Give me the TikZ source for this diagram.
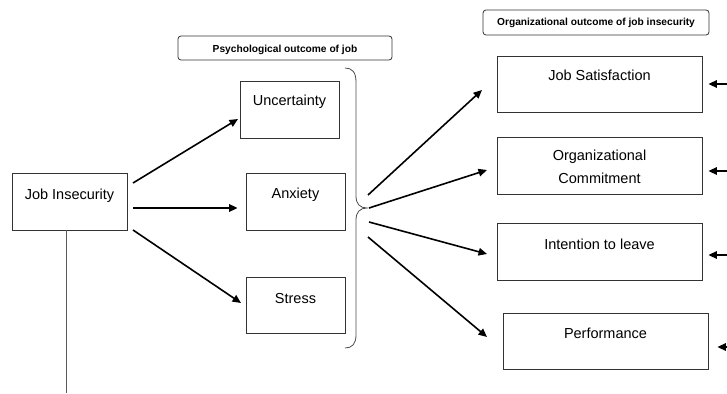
\documentclass[tikz,border=0pt]{standalone}
\usepackage{fontspec}
\setmainfont{Liberation Sans}
\usetikzlibrary{arrows.meta}
\begin{document}
\begin{tikzpicture}[x=1pt,y=-1pt,
  box/.style={draw=black!80, line width=0.8pt, inner sep=0pt},
  lab/.style={draw=black!80, rounded corners=3pt, line width=0.8pt, inner sep=0pt},
  txt/.style={font=\fontsize{14.5}{23}\selectfont, inner sep=0pt, anchor=base, align=center},
  btxt/.style={font=\bfseries\fontsize{10.2}{12}\selectfont, inner sep=0pt, anchor=base},
  arr/.style={line width=1.6pt, -{Triangle[length=8.5pt,width=7.5pt]}},
]
\useasboundingbox (0,0) rectangle (727,393);

% boxes
\node[box, minimum width=115, minimum height=57] (ji) at (69.5,201.5) {};
\node[box, minimum width=99, minimum height=57] (unc) at (289.5,109.5) {};
\node[box, minimum width=99, minimum height=57] (anx) at (295.5,201.5) {};
\node[box, minimum width=99, minimum height=56] (str) at (295.5,305) {};
\node[box, minimum width=205, minimum height=56] (js) at (599.5,84) {};
\node[box, minimum width=205, minimum height=57] (oc) at (599.5,165.5) {};
\node[box, minimum width=205, minimum height=57] (itl) at (599.5,251.5) {};
\node[box, minimum width=205, minimum height=56] (perf) at (605.5,341) {};
\node[lab, minimum width=214, minimum height=24] (psy) at (285,48) {};
\node[lab, minimum width=226, minimum height=25] (org) at (596,22.5) {};

% texts
\node[txt] (jit) at (69.5,199) {Job Insecurity};
\node[txt] (unct) at (289.5,106) {Uncertainty};
\node[txt] (anxt) at (295.5,198) {Anxiety};
\node[txt] (strt) at (295.5,303) {Stress};
\node[txt] (jst) at (599.5,81) {Job Satisfaction};
\node[txt] (oct1) at (599.5,160) {Organizational};
\node[txt] (oct2) at (599.5,183) {Commitment};
\node[txt] (itlt) at (599.5,249) {Intention to leave};
\node[txt] (perft) at (605.5,338) {Performance};
\node[btxt] (psyt) at (285,53) {Psychological outcome of job};
\node[btxt] (orgt) at (596,25.5) {Organizational outcome of job insecurity};

% arrows from Job Insecurity
\coordinate (a1) at (133,183);
\coordinate (a2) at (133,208);
\coordinate (a3) at (133,230);
\coordinate (b1) at (238,119);
\coordinate (b3) at (241,303);
\draw[arr] (a1) -- (b1);
\draw[arr] (a2) -- (a2 -| anx.west) [shorten >=8pt];
\draw[arr] (a3) -- (b3);

% vertical line
\coordinate (bot) at (66,393);
\draw[black!65, line width=0.8pt] (ji.south -| bot) -- (bot);

% brace
\coordinate (tip) at (367,208);
\draw[black!70, line width=0.8pt] (345,68) .. controls (352,68) and (356,72) .. (356,82)
  -- (356,196) .. controls (356,204) and (360,208) .. (tip)
  .. controls (360,208) and (356,212) .. (356,220)
  -- (356,335) .. controls (356,344) and (352,348) .. (345,348);

% arrows from brace
\coordinate (s1) at (368,195);
\coordinate (s2) at (369,208);
\coordinate (s3) at (369,222);
\coordinate (s4) at (368,237);
\coordinate (e1) at (482,90);
\coordinate (e2) at (487,170);
\coordinate (e3) at (487,254);
\coordinate (e4) at (487,337);
\draw[arr] (s1) -- (e1);
\draw[arr] (s2) -- (e2);
\draw[arr] (s3) -- (e3);
\draw[arr] (s4) -- (e4);

% arrows from right edge
\coordinate (r1) at (728,84);
\coordinate (r2) at (728,171);
\coordinate (r3) at (728,255);
\coordinate (r4) at (728,347);
\draw[arr, shorten >=6pt] (r1) -- (r1 -| js.east);
\draw[arr, shorten >=6pt] (r2) -- (r2 -| oc.east);
\draw[arr, shorten >=6pt] (r3) -- (r3 -| itl.east);
\draw[arr, shorten >=9pt] (r4) -- (r4 -| perf.east);
\end{tikzpicture}
\end{document}
